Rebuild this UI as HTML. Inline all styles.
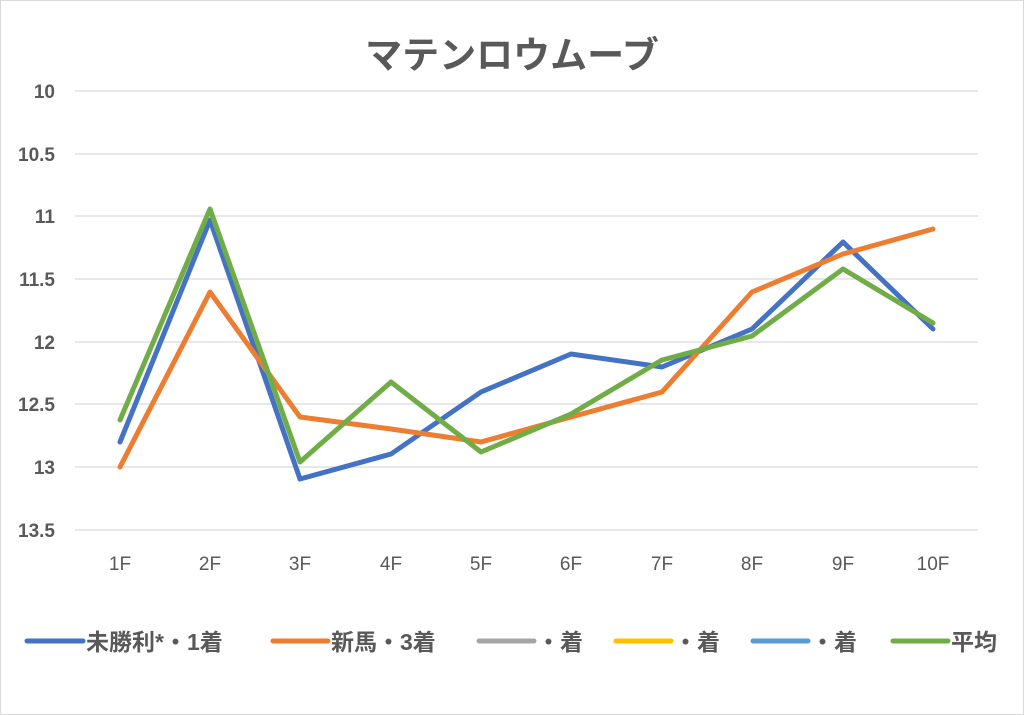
<!DOCTYPE html>
<html><head><meta charset="utf-8"><style>
body{margin:0;background:#fff}
svg{display:block}
text{font-family:"Liberation Sans","Noto Sans CJK JP",sans-serif;fill:#595959}
</style></head><body>
<svg width="1024" height="715" viewBox="0 0 1024 715">
<rect x="0.5" y="0.5" width="1023" height="714" fill="#fff" stroke="#d9d9d9"/>
<text x="512" y="68" text-anchor="middle" font-size="37" font-weight="bold">マテンロウムーブ</text>
<g stroke="#d9d9d9" stroke-width="1.3">
<line x1="75" x2="978" y1="91" y2="91"/><line x1="75" x2="978" y1="154" y2="154"/>
<line x1="75" x2="978" y1="216" y2="216"/><line x1="75" x2="978" y1="279" y2="279"/>
<line x1="75" x2="978" y1="342" y2="342"/><line x1="75" x2="978" y1="404" y2="404"/>
<line x1="75" x2="978" y1="467" y2="467"/><line x1="75" x2="978" y1="530" y2="530"/>
</g>
<g font-size="19" font-weight="bold" text-anchor="end">
<text x="55" y="98">10</text><text x="55" y="161">10.5</text><text x="55" y="223">11</text>
<text x="55" y="286">11.5</text><text x="55" y="349">12</text><text x="55" y="411">12.5</text>
<text x="55" y="474">13</text><text x="55" y="537">13.5</text>
</g>
<g font-size="19" text-anchor="middle">
<text x="120" y="570">1F</text><text x="210" y="570">2F</text><text x="300" y="570">3F</text>
<text x="391" y="570">4F</text><text x="481" y="570">5F</text><text x="571" y="570">6F</text>
<text x="662" y="570">7F</text><text x="752" y="570">8F</text><text x="843" y="570">9F</text>
<text x="933" y="570">10F</text>
</g>
<g fill="none" stroke-width="5" stroke-linejoin="round" stroke-linecap="round">
<polyline stroke="#4472c4" points="120,442 210,220 300,479 391,454 481,392 571,354 662,367 752,329 843,242 933,329"/>
<polyline stroke="#ed7d31" points="120,467 210,292 300,417 391,429 481,442 571,417 662,392 752,292 843,254 933,229"/>
<polyline stroke="#70ad47" points="120,420 210,209 300,462 391,382 481,452 571,414 662,360 752,336 843,269 933,323"/>
</g>
<g stroke-width="5" stroke-linecap="round">
<line x1="27" x2="83" y1="641" y2="641" stroke="#4472c4"/>
<line x1="273" x2="328" y1="641" y2="641" stroke="#ed7d31"/>
<line x1="479" x2="534" y1="641" y2="641" stroke="#a5a5a5"/>
<line x1="616" x2="671" y1="641" y2="641" stroke="#ffc000"/>
<line x1="753" x2="808" y1="641" y2="641" stroke="#5b9bd5"/>
<line x1="893" x2="948" y1="641" y2="641" stroke="#70ad47"/>
</g>
<g font-size="23" font-weight="bold">
<text x="86" y="650">未勝利*・1着</text>
<text x="331" y="650">新馬・3着</text>
<text x="537" y="650">・着</text>
<text x="674" y="650">・着</text>
<text x="811" y="650">・着</text>
<text x="951" y="650">平均</text>
</g>
</svg>
</body></html>
